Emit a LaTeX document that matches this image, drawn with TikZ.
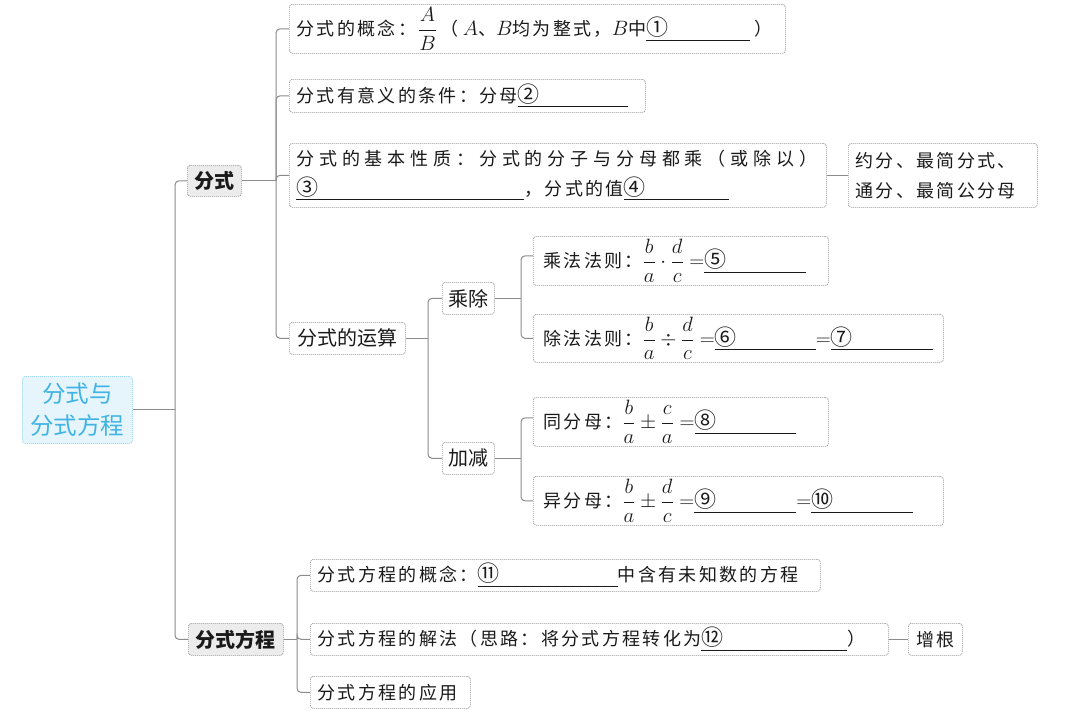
\documentclass[tikz,border=0pt]{standalone}
\usepackage{amsmath}
\usepackage{fontspec}
\setmainfont{Noto Sans CJK SC}
\newfontfamily\kai{Noto Sans CJK SC}[LetterSpace=13]
\newfontfamily\kaiw{Noto Sans CJK SC}[LetterSpace=27]
\newfontfamily\hei{Noto Sans CJK SC}
\definecolor{linegray}{HTML}{8C8C8C}
\definecolor{boxgray}{HTML}{9A9A9A}
\definecolor{midfill}{HTML}{ECECEC}
\definecolor{rootfill}{HTML}{E6F5FC}
\definecolor{rootdraw}{HTML}{A5DCF0}
\definecolor{roottext}{HTML}{3FB3E3}
\definecolor{textc}{HTML}{1A1A1A}
\newcommand\blk[2]{\underline{{\hei\fontsize{22}{22}\selectfont #1}\hspace{#2pt}}}
\newcommand\fr[2]{{\fontsize{20}{24}\selectfont$\dfrac{#1}{#2}$}}
\newcommand\mth[1]{{\fontsize{20}{24}\selectfont$#1$}}
\begin{document}
\begin{tikzpicture}[x=1pt,y=-1pt,
 conn/.style={draw=linegray,line width=1pt,rounded corners=4pt},
 leafbox/.style={draw=boxgray,line width=0.7pt,dash pattern=on 1.2pt off 0.8pt,rounded corners=3pt,fill=white,anchor=north west,inner xsep=7pt,inner ysep=0pt,align=left,text=textc,font=\kai\fontsize{18}{20}\selectfont},
 midbox/.style={draw=boxgray,line width=0.7pt,dash pattern=on 1.2pt off 0.8pt,rounded corners=3pt,fill=white,anchor=north west,inner sep=0pt,text=textc,font=\hei\fontsize{20}{24}\selectfont},
 lvltwo/.style={midbox,fill=midfill,font=\hei\bfseries\fontsize{20}{24}\selectfont},
 rootbox/.style={draw=rootdraw,fill=rootfill,line width=0.8pt,dash pattern=on 1.2pt off 0.8pt,rounded corners=3pt,anchor=north west,inner sep=0pt,minimum width=110pt,minimum height=67pt,align=center,text=roottext,font=\hei\fontsize{23.5}{32}\selectfont},
]
\fill[white] (0,0) rectangle (1068,715);
\useasboundingbox (0,0) rectangle (1068,715);

\coordinate (sA) at (175,0);
\coordinate (sB) at (276,0);
\coordinate (sC) at (428,0);
\coordinate (sD) at (521,0);
\coordinate (sE) at (297,0);

\node[rootbox] (root) at (22,376) {分式与\\分式方程};
\node[lvltwo,minimum width=54pt,minimum height=31pt] (fs) at (187,165) {分式};
\node[lvltwo,minimum width=95pt,minimum height=32pt] (fsfc) at (188,623) {分式方程};

\node[leafbox,text width=482pt,minimum height=49pt] (b1) at (289,4) {分式的概念：\hspace{2pt}\fr{A}{B}\hspace{4pt}（\hspace{4pt}\mth{A}、\mth{B}均为整式，\mth{B}中\blk{①}{82}\hspace{4pt}）};
\node[leafbox,text width=342pt,minimum height=33pt] (b2) at (289,79) {分式有意义的条件：分母\blk{②}{88}};
\node[leafbox,text width=523pt,minimum height=64pt,font=\kai\fontsize{18}{30}\selectfont] (b3) at (289,143) {{\kaiw 分式的基本性质：分式的分子与分母都乘（或除以）}\\\blk{③}{206}，分式的值\blk{④}{83}};
\node[leafbox,text width=175pt,minimum height=64pt,font=\kai\fontsize{18}{30}\selectfont] (yf) at (848,143) {约分、最简分式、\\通分、最简公分母};

\node[midbox,minimum width=116pt,minimum height=32pt] (ys) at (289,322) {分式的运算};
\node[midbox,minimum width=52pt,minimum height=32pt] (cc) at (442,282) {乘除};
\node[midbox,minimum width=52pt,minimum height=32pt] (jj) at (442,442) {加减};

\node[leafbox,text width=281pt,minimum height=49pt] (cf) at (533,236) {\hspace{3pt}乘法法则：\mth{\dfrac{b}{a}\cdot\dfrac{d}{c}=}\blk{⑤}{80}};
\node[leafbox,text width=396pt,minimum height=48pt] (chuf) at (533,314) {\hspace{3pt}除法法则：\mth{\dfrac{b}{a}\div\dfrac{d}{c}=}\blk{⑥}{79}\mth{=}\blk{⑦}{80}};
\node[leafbox,text width=281pt,minimum height=49pt] (tf) at (533,397) {\hspace{3pt}同分母：\mth{\dfrac{b}{a}\pm\dfrac{c}{a}=}\blk{⑧}{79}};
\node[leafbox,text width=396pt,minimum height=49pt] (yfm) at (533,476) {\hspace{3pt}异分母：\mth{\dfrac{b}{a}\pm\dfrac{d}{c}=}\blk{⑨}{80}\mth{=}\blk{⑩}{80}};

\node[leafbox,text width=496pt,minimum height=32pt] (c11) at (310,559) {分式方程的概念：\blk{⑪}{118}中含有未知数的方程};
\node[leafbox,text width=564pt,minimum height=32pt] (c12) at (310,623) {分式方程的解法（思路：将分式方程转化为\blk{⑫}{124}）};
\node[leafbox,minimum width=54pt,minimum height=32pt,inner xsep=0pt,align=center] (zg) at (908,623) {增根};
\node[leafbox,text width=146pt,minimum height=32pt] (c13) at (310,676) {分式方程的应用};

\draw[conn] (root.east) -- (sA |- root.east);
\draw[conn] (sA |- root.east) |- (fs.west);
\draw[conn] (sA |- root.east) |- (fsfc.west);

\draw[conn] (fs.east) -- (sB |- fs.east);
\foreach \c in {b1,b2,b3,ys} \draw[conn] (sB |- fs.east) |- (\c.west);
\draw[conn] (b3.east) -- (yf.west);

\draw[conn] (ys.east) -- (sC |- ys.east);
\draw[conn] (sC |- ys.east) |- (cc.west);
\draw[conn] (sC |- ys.east) |- (jj.west);

\draw[conn] (cc.east) -- (sD |- cc.east);
\draw[conn] (sD |- cc.east) |- ([yshift=5pt]cf.west);
\draw[conn] (sD |- cc.east) |- (chuf.west);
\draw[conn] (jj.east) -- (sD |- jj.east);
\draw[conn] (sD |- jj.east) |- ([yshift=4pt]tf.west);
\draw[conn] (sD |- jj.east) |- (yfm.west);

\draw[conn] (fsfc.east) -- (sE |- fsfc.east);
\foreach \c in {c11,c12,c13} \draw[conn] (sE |- fsfc.east) |- (\c.west);
\draw[conn] (c12.east) -- (zg.west);
\end{tikzpicture}
\end{document}
